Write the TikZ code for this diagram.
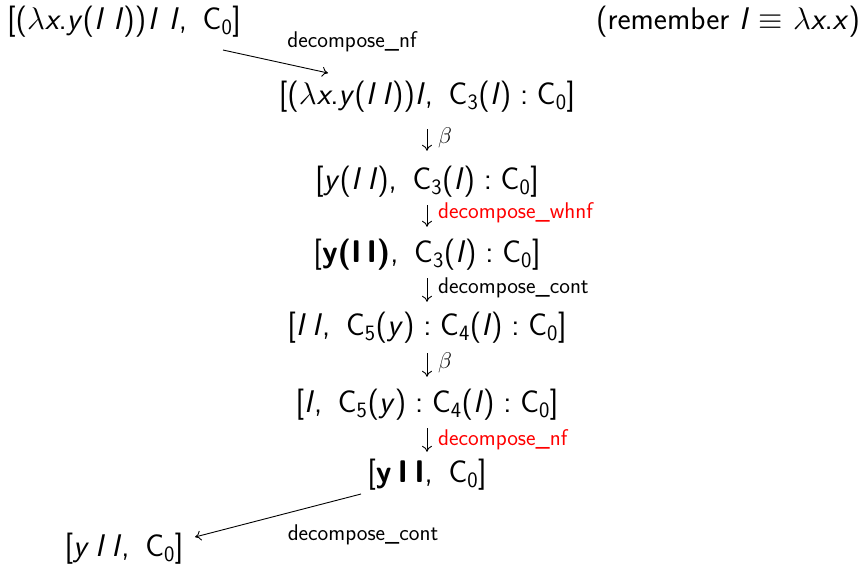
\RequirePackage{fix-cm}
\documentclass[tikz,border=0pt]{standalone}
\usetikzlibrary{arrows.meta}
\newcommand\vI{\textsl{I}}
\newcommand\vx{\textsl{x}}
\newcommand\vy{\textsl{y}}
\newcommand\isp{\hspace{0.2em}}
\newcommand\csep{,\hspace{0.5em}}
\newcommand\ccol{\hspace{0.28em}:\hspace{0.28em}}
\newcommand\lam{\ensuremath{\lambda}}
\newcommand\Cc[1]{C\textsubscript{#1}}
\tikzset{
  term/.style={font=\fontsize{31.3}{36}\selectfont\sffamily, inner sep=0pt, anchor=center},
  lab/.style={font=\fontsize{22.7}{27}\selectfont\sffamily, inner sep=0pt},
  redlab/.style={lab, text=red},
  arr/.style={-{To[length=6pt,width=10pt]}, line width=0.9pt},
}
\begin{document}
\begin{tikzpicture}[x=1pt,y=-1pt]
\useasboundingbox (0,0) rectangle (861,566);
\node[term] (L1) at (124,22) {[(\lam\vx.\vy(\vI\hspace{0.3em}\vI))\hspace{0.05em}\vI\hspace{0.35em}\vI\csep\Cc{0}]};
\node[term] (rem) at (728,22) {(remember \vI\ $\equiv$ \lam\vx.\vx)};
\node[term] (L2) at (427,97) {[(\lam\vx.\vy(\vI\isp\vI))\vI\csep\Cc{3}(\vI)\ccol\Cc{0}]};
\node[term] (L3) at (427,182) {[\vy(\vI\isp\vI)\csep\Cc{3}(\vI)\ccol\Cc{0}]};
\node[term] (L4) at (427,255) {[\textbf{y(I\,I)}\csep\Cc{3}(\vI)\ccol\Cc{0}]};
\node[term] (L5) at (427,328) {[\vI\isp\vI\csep\Cc{5}(\vy)\ccol\Cc{4}(\vI)\ccol\Cc{0}]};
\node[term] (L6) at (427,405) {[\vI\csep\Cc{5}(\vy)\ccol\Cc{4}(\vI)\ccol\Cc{0}]};
\node[term] (L7) at (427,475) {[\textbf{y\isp I\isp I}\csep\Cc{0}]};
\node[term] (L8) at (124,549) {[\vy\isp\vI\isp\vI\csep\Cc{0}]};
% diagonal arrows
\coordinate (d1s) at (223,50);
\coordinate (d1e) at (328,73);
\draw[arr] (d1s) -- (d1e);
\node[lab] (t1) at (352,42) {decompose\_nf};
\coordinate (d2s) at (361,494);
\coordinate (d2e) at (195,537);
\draw[arr] (d2s) -- (d2e);
\node[lab] (t2) at (363,535) {decompose\_cont};
% vertical arrows
\draw[arr] ([yshift=-16.35pt]L2.south) -- ([yshift=15.35pt]L3.north);
\node[lab, anchor=west] (b1) at (438,138) {$\beta$};
\draw[arr] ([yshift=-7.35pt]L3.south) -- ([yshift=12.35pt]L4.north);
\node[redlab, anchor=west] (w1) at (438,213) {decompose\_whnf};
\draw[arr] ([yshift=-7.35pt]L4.south) -- ([yshift=10.35pt]L5.north);
\node[lab, anchor=west] (c1) at (438,288) {decompose\_cont};
\draw[arr] ([yshift=-9.35pt]L5.south) -- ([yshift=12.35pt]L6.north);
\node[lab, anchor=west] (b2) at (438,363) {$\beta$};
\draw[arr] ([yshift=-7.35pt]L6.south) -- ([yshift=7.35pt]L7.north);
\node[redlab, anchor=west] (n1) at (438,440) {decompose\_nf};
\end{tikzpicture}
\end{document}
